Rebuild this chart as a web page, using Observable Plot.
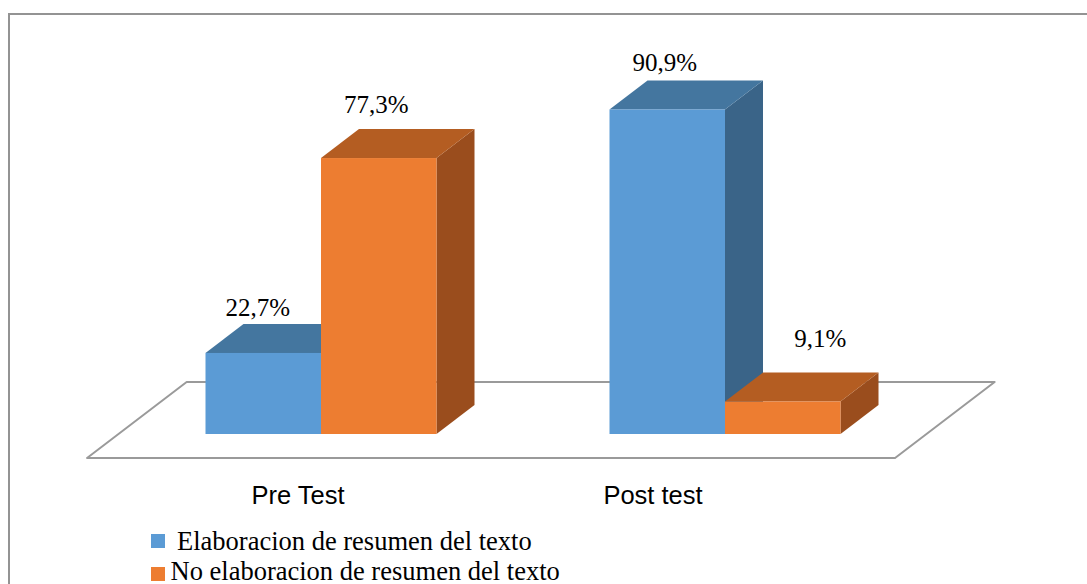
<!DOCTYPE html>
<html>
<head>
<meta charset="utf-8">
<script src="https://cdn.jsdelivr.net/npm/d3@7"></script>
<script src="https://cdn.jsdelivr.net/npm/@observablehq/plot@0.6"></script>
<style>
  html, body { margin: 0; padding: 0; background: #fff; overflow: hidden; }
  #page { position: relative; width: 1087px; height: 584px; }
  #frame { position: absolute; left: 8px; top: 12.5px; width: 1200px; height: 700px;
           border-top: 2px solid #939393; border-left: 2px solid #939393; }
  #chart { position: absolute; left: 0; top: 0; }
  .leg { position: absolute; font-family: "Liberation Serif", "Times New Roman", serif;
         font-size: 26.5px; line-height: 26.5px; color: #000; white-space: nowrap; }
  .sw { position: absolute; width: 13.5px; height: 13.5px; }
</style>
</head>
<body>
<div id="page">
  <div id="frame"></div>
  <div id="chart"></div>
  <div id="legend"></div>
</div>
<script>
// ---- data ----
const categories = ["Pre Test", "Post test"];
const seriesNames = ["Elaboracion de resumen del texto", "No elaboracion de resumen del texto"];
const elaboracion = [22.7, 90.9];
const noElaboracion = [77.3, 9.1];

// ---- styling ----
const frontColors = ["#5B9BD5", "#ED7D31"];
const topColors   = ["#44769F", "#B45D22"];
const sideColors  = ["#3A6488", "#9A4D1D"];
const barWidth = 115.5;
const DX = 38, DY = 29;          // 3-D depth of the bars (px)
const floorFront = 24, floorBack = 23;

const seriesValues = [elaboracion, noElaboracion];
const rows = [];
seriesNames.forEach((s, si) => categories.forEach((c, ci) =>
  rows.push({category: c, series: s, si, value: seriesValues[si][ci]})));
const fmt = v => v.toFixed(1).replace(".", ",") + "%";

function barLeft(x, r) {
  const bw = x.bandwidth ? x.bandwidth() : 404;
  return x(r.category) + (r.si === 0 ? bw / 2 - barWidth : bw / 2);
}

// floor parallelogram, derived from the x-scale range and y(0)
function floorMark(index, scales) {
  const x = scales.x, y = scales.y;
  const [x0, x1] = x.range();
  const base = y(0);
  const k = DX / DY;
  const fy = base + floorFront, by = base - DY - floorBack;
  const pts = [
    [x0 - floorFront * k, fy], [x0 + (DY + floorBack) * k, by],
    [x1 + (DY + floorBack) * k, by], [x1 - floorFront * k, fy]
  ];
  const g = d3.create("svg:g");
  g.append("polygon").attr("points", pts.join(" "))
    .attr("fill", "none").attr("stroke", "#9a9a9a").attr("stroke-width", 2)
    .attr("stroke-linejoin", "round");
  return g.node();
}

// top and side faces for one series
function facesMark(si) {
  return (index, scales) => {
    const x = scales.x, y = scales.y;
    const g = d3.create("svg:g");
    rows.filter(r => r.si === si).forEach(r => {
      const left = barLeft(x, r), right = left + barWidth;
      const top = y(r.value), base = y(0);
      g.append("polygon").attr("points",
        [[right, base], [right + DX, base - DY], [right + DX, top - DY], [right, top]].join(" "))
        .attr("fill", sideColors[si]);
      g.append("polygon").attr("points",
        [[left, top], [right, top], [right + DX, top - DY], [left + DX, top - DY]].join(" "))
        .attr("fill", topColors[si]);
    });
    return g.node();
  };
}

const rangeL = 118.5, rangeR = 926.5, W = 1087, H = 520;
const bw = (rangeR - rangeL) / categories.length;

function frontMark(si) {
  return Plot.barY(rows.filter(r => r.si === si), {
    x: "category", y: "value", fill: frontColors[si],
    insetLeft: si === 0 ? bw / 2 - barWidth : bw / 2,
    insetRight: si === 0 ? bw / 2 : bw / 2 - barWidth
  });
}

// label tweaks (px) relative to the front-face centre
const labelShift = {
  "Pre Test|0": [-6, -37], "Pre Test|1": [-3, -46],
  "Post test|0": [-3, -39], "Post test|1": [37, -55]
};
const labelMarks = rows.map(r => {
  const [tx, ty] = labelShift[r.category + "|" + r.si];
  return Plot.text([r], {
    x: "category", y: "value", text: d => fmt(d.value),
    dx: (r.si === 0 ? -barWidth / 2 : barWidth / 2) + tx, dy: ty,
    lineAnchor: "bottom", fontFamily: "Liberation Serif", fontSize: 25, fill: "#000"
  });
});
const catShift = [-23.5, -72.5];
const catMarks = categories.map((c, i) => Plot.text([c], {
  x: d => d, y: () => 0, dx: catShift[i], dy: 69, lineAnchor: "bottom",
  fontFamily: "Liberation Sans", fontSize: 25.5, fill: "#000"
}));

const plot = Plot.plot({
  width: W, height: H,
  marginLeft: rangeL, marginRight: W - rangeR, marginTop: 77, marginBottom: 86,
  style: {background: "transparent"},
  x: {type: "band", domain: categories, padding: 0, axis: null},
  y: {domain: [0, 100], axis: null},
  marks: [
    floorMark,
    facesMark(0), frontMark(0),
    facesMark(1), frontMark(1),
    ...labelMarks,
    ...catMarks
  ]
});
document.getElementById("chart").appendChild(plot);

// legend (HTML, below the chart)
const legend = document.getElementById("legend");
const legRows = [
  {sw: [151, 534], text: [177, 528]},
  {sw: [151, 567], text: [170.5, 558]}
];
seriesNames.forEach((s, i) => {
  const sw = document.createElement("div");
  sw.className = "sw";
  sw.style.left = legRows[i].sw[0] + "px"; sw.style.top = legRows[i].sw[1] + "px";
  sw.style.background = frontColors[i];
  legend.appendChild(sw);
  const t = document.createElement("div");
  t.className = "leg";
  t.style.left = legRows[i].text[0] + "px"; t.style.top = legRows[i].text[1] + "px";
  t.textContent = s;
  legend.appendChild(t);
});
</script>
</body>
</html>
